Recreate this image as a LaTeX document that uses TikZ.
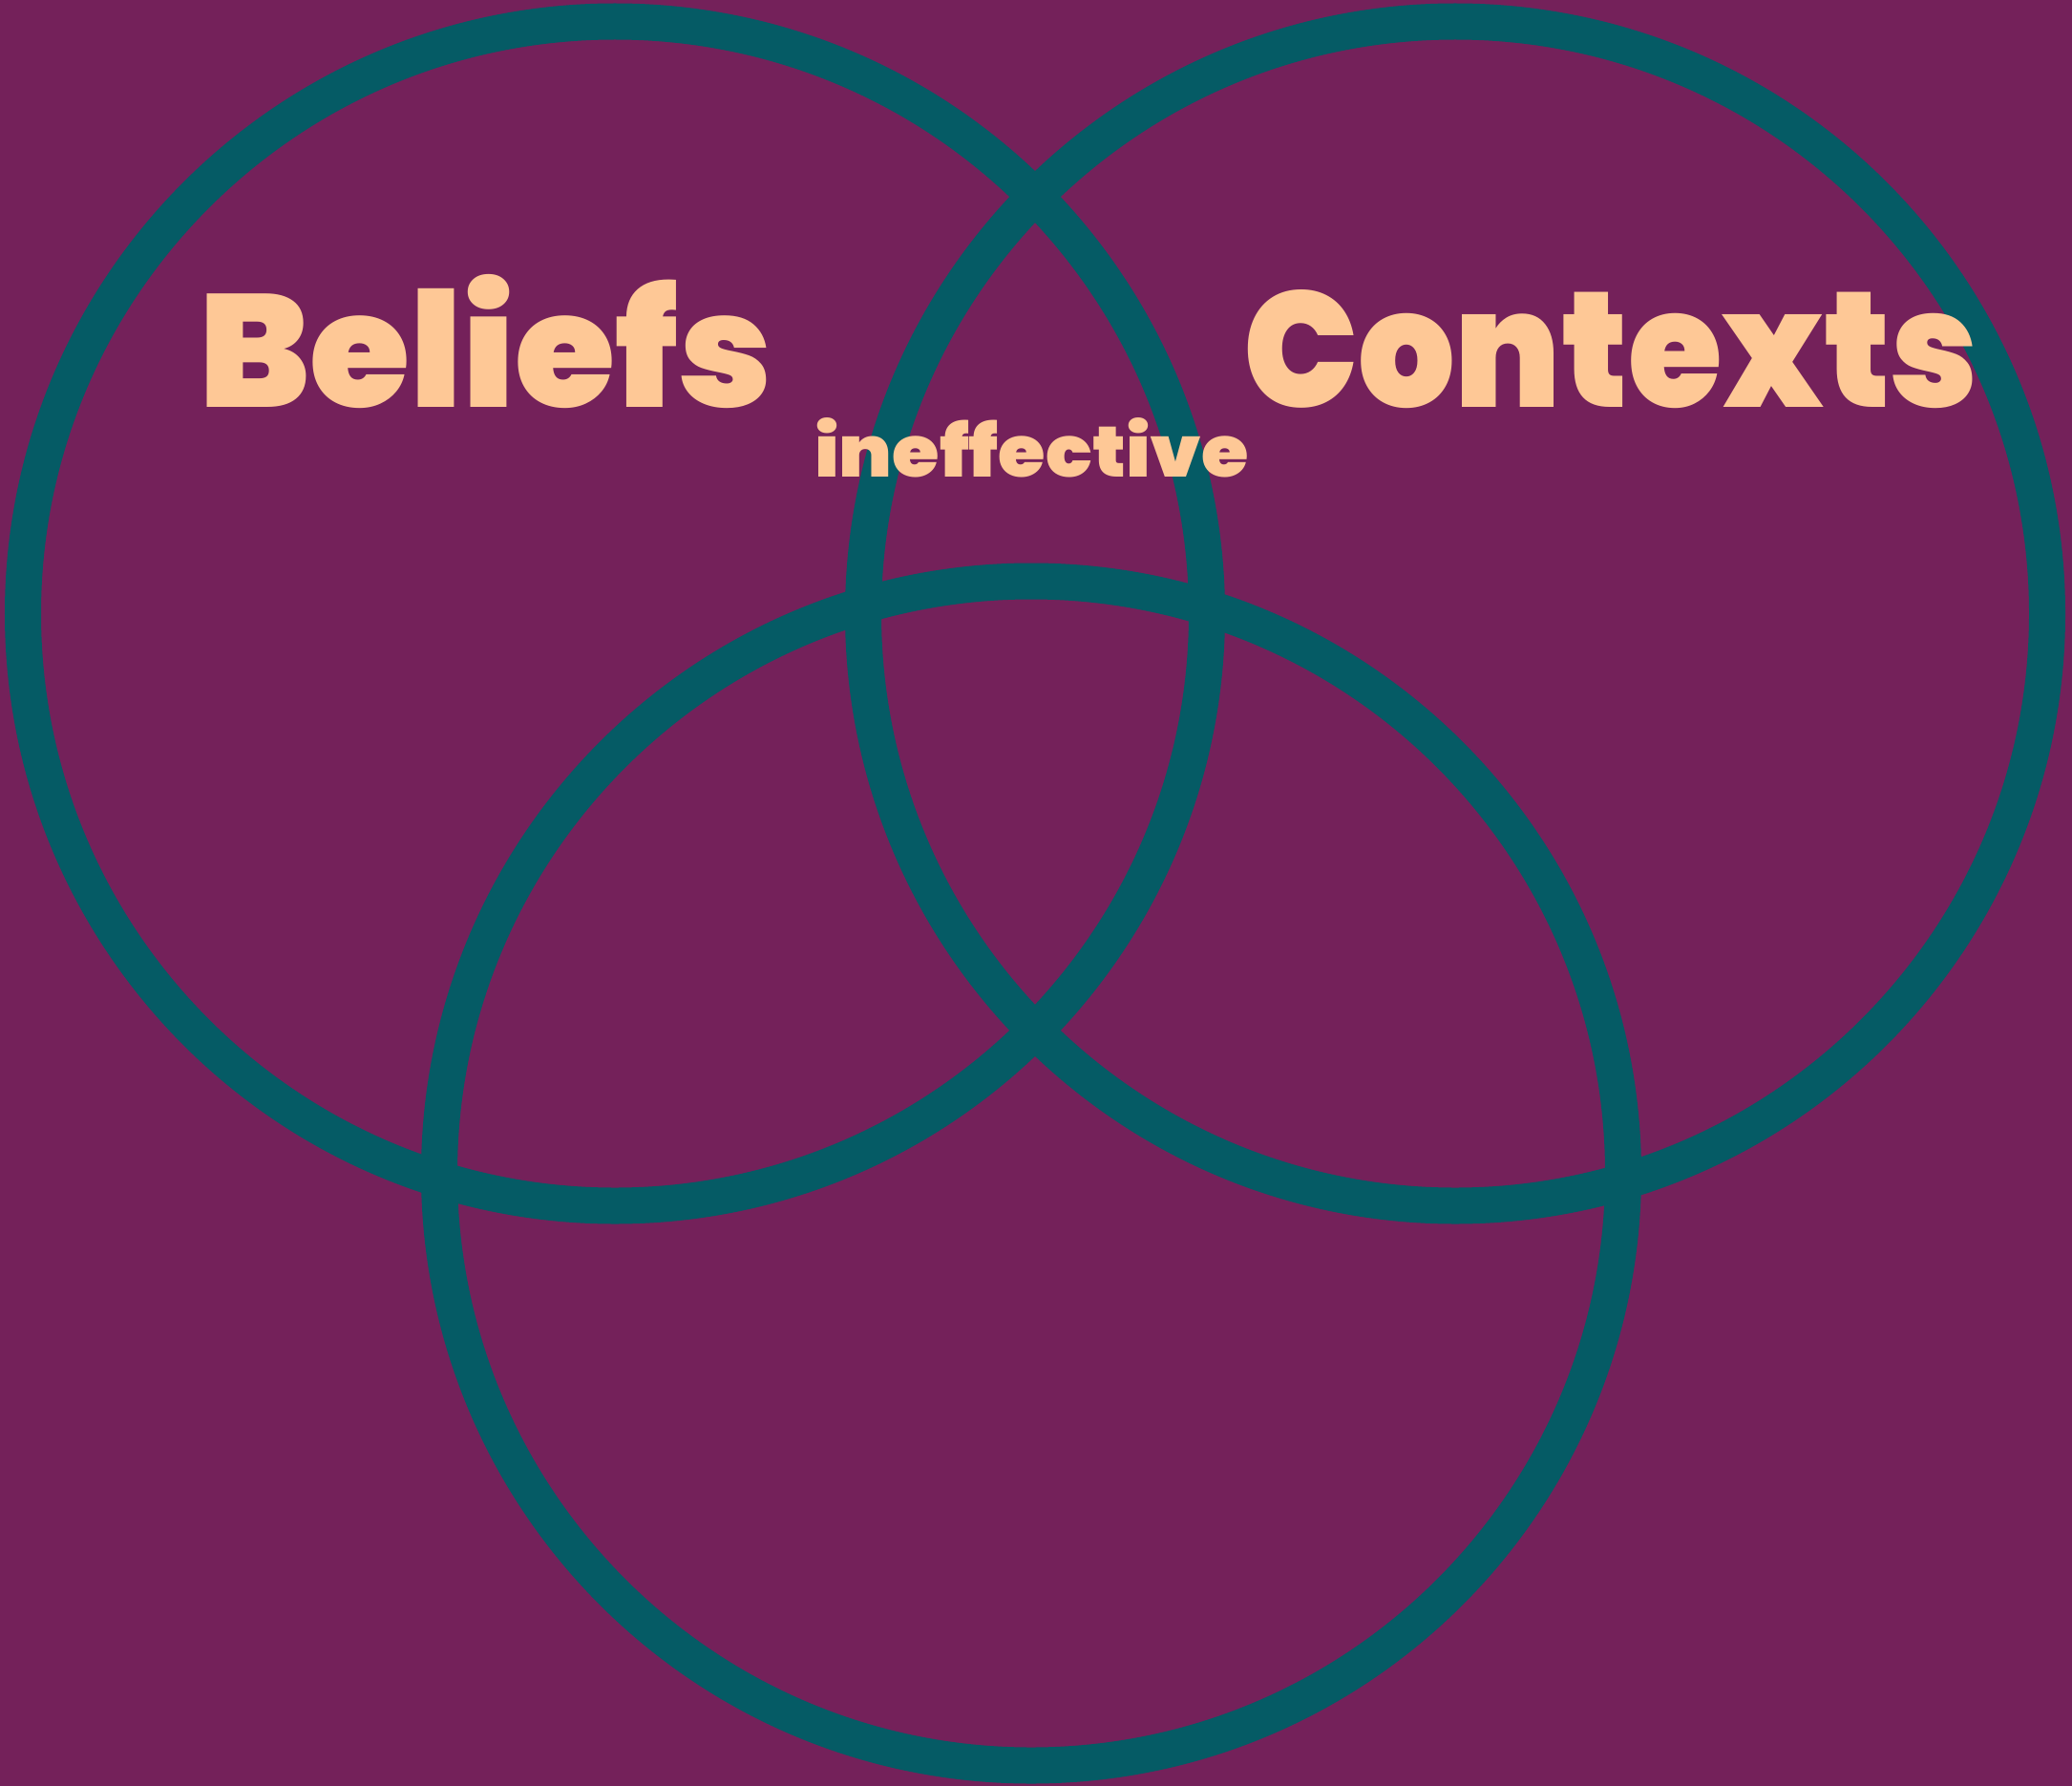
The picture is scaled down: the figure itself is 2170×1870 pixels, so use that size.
\documentclass[tikz,border=0pt]{standalone}
\usepackage{fontspec}
\setmainfont{Poppins}
\newfontfamily\heavyfont{Poppins Black}[Ligatures=NoCommon]
\usepackage{graphicx}
\definecolor{bgpurple}{HTML}{74215A}
\definecolor{ringteal}{HTML}{055B65}
\definecolor{peach}{HTML}{FEC896}
\tikzset{
  ring/.style={draw=ringteal, line width=38pt},
  label/.style={text=peach, inner sep=0pt, outer sep=0pt, anchor=base west, font=\heavyfont}
}
\begin{document}
\begin{tikzpicture}[x=1pt, y=-1pt]
\useasboundingbox (0,0) rectangle (2170,1870);
\fill[bgpurple] (0,0) rectangle (2170,1870);
\coordinate (cl) at (644,642.5);
\coordinate (cr) at (1524,642.5);
\coordinate (cb) at (1080,1228.5);
\draw[ring] (cl) circle[radius=620pt];
\draw[ring] (cr) circle[radius=620pt];
\draw[ring] (cb) circle[radius=620pt];
\node[label] (beliefs) at (208,426) {\resizebox{600pt}{139pt}{Beliefs}};
\node[label] (contexts) at (1302,426) {\resizebox{770pt}{123pt}{Contexts}};
\node[label] (ineff) at (853,499) {\resizebox{455pt}{62pt}{ineffective}};
\end{tikzpicture}
\end{document}
